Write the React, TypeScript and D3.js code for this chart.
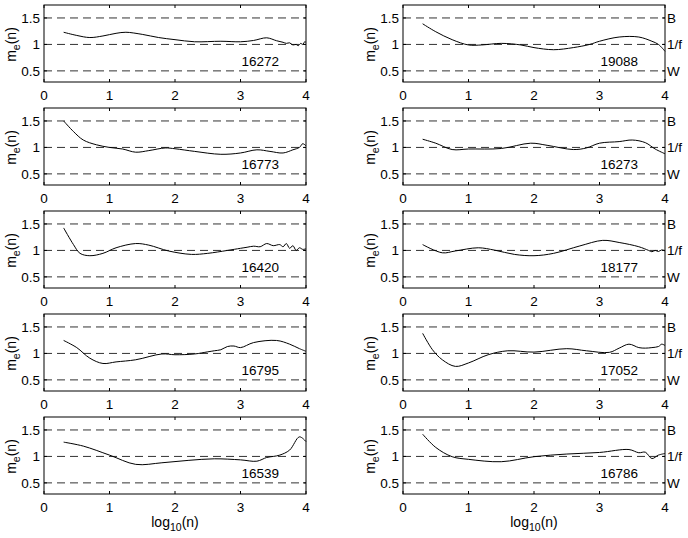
import * as d3 from 'd3';

// log10(n) positions and m_e(n) estimates for each run
const x16272 = [0.3, 0.5, 0.7, 0.9, 1.1, 1.25, 1.5, 1.75, 2.0, 2.3, 2.7, 3.0, 3.2, 3.4, 3.55, 3.65, 3.7, 3.75, 3.8, 3.85, 3.88, 3.92, 3.95, 3.98, 4.0];
const y16272 = [1.23, 1.17, 1.13, 1.16, 1.21, 1.23, 1.19, 1.13, 1.09, 1.05, 1.06, 1.05, 1.075, 1.125, 1.07, 1.04, 1.02, 1.03, 0.99, 1.0, 0.975, 1.02, 1.0, 1.05, 1.04];

const x19088 = [0.3, 0.5, 0.75, 1.0, 1.2, 1.5, 1.8, 2.0, 2.3, 2.6, 2.85, 3.0, 3.3, 3.6, 3.8, 3.9, 4.0];
const y19088 = [1.39, 1.24, 1.09, 0.99, 0.99, 1.02, 0.99, 0.94, 0.9, 0.94, 1.0, 1.06, 1.14, 1.14, 1.06, 1.0, 0.87];

const x16773 = [0.3, 0.45, 0.6, 0.8, 1.0, 1.2, 1.4, 1.6, 1.85, 2.0, 2.3, 2.7, 3.0, 3.25, 3.45, 3.65, 3.8, 3.9, 3.95, 4.0];
const y16773 = [1.5, 1.3, 1.14, 1.05, 1.0, 0.97, 0.91, 0.94, 0.99, 0.975, 0.925, 0.87, 0.895, 0.955, 0.925, 0.895, 0.955, 1.0, 1.07, 1.03];

const x16273 = [0.3, 0.5, 0.75, 1.0, 1.5, 1.95, 2.2, 2.6, 2.8, 3.0, 3.3, 3.5, 3.7, 3.85, 4.0];
const y16273 = [1.155, 1.08, 0.96, 0.97, 0.98, 1.08, 1.04, 0.96, 0.99, 1.08, 1.11, 1.14, 1.09, 0.97, 0.88];

const x16420 = [0.3, 0.45, 0.55, 0.7, 0.9, 1.1, 1.4, 1.6, 1.9, 2.25, 2.5, 2.8, 3.0, 3.1, 3.2, 3.3, 3.4, 3.5, 3.6, 3.65, 3.7, 3.75, 3.8, 3.85, 3.9, 3.95, 4.0];
const y16420 = [1.425, 1.11, 0.945, 0.9, 0.945, 1.05, 1.13, 1.1, 0.99, 0.925, 0.945, 1.0, 1.04, 1.06, 1.08, 1.07, 1.13, 1.09, 1.11, 1.07, 1.13, 1.04, 1.09, 1.0, 1.05, 1.02, 1.03];

const x18177 = [0.3, 0.6, 0.8, 1.15, 1.4, 1.7, 2.0, 2.3, 2.7, 3.05, 3.3, 3.6, 3.75, 3.8, 3.85, 3.9, 3.95, 4.0];
const y18177 = [1.11, 0.955, 0.99, 1.05, 1.005, 0.925, 0.9, 0.945, 1.085, 1.19, 1.15, 1.07, 1.0, 0.975, 1.0, 0.98, 1.01, 0.99];

const x16795 = [0.3, 0.5, 0.7, 0.9, 1.1, 1.4, 1.8, 2.0, 2.3, 2.5, 2.6, 2.7, 2.8, 2.9, 3.0, 3.2, 3.55, 3.75, 3.9, 4.0];
const y16795 = [1.245, 1.11, 0.91, 0.81, 0.84, 0.88, 0.99, 0.975, 0.99, 1.03, 1.05, 1.07, 1.13, 1.14, 1.11, 1.205, 1.245, 1.175, 1.09, 1.04];

const x17052 = [0.3, 0.45, 0.6, 0.8, 1.0, 1.3, 1.6, 2.0, 2.5, 2.8, 3.15, 3.3, 3.45, 3.6, 3.7, 3.8, 3.9, 3.95, 4.0];
const y17052 = [1.38, 1.07, 0.88, 0.755, 0.82, 0.975, 1.05, 1.025, 1.09, 1.05, 1.02, 1.1, 1.175, 1.11, 1.1, 1.11, 1.13, 1.175, 1.15];

const x16539 = [0.3, 0.6, 1.0, 1.4, 1.8, 2.2, 2.6, 3.0, 3.25, 3.4, 3.5, 3.6, 3.75, 3.9, 4.0];
const y16539 = [1.27, 1.195, 1.025, 0.85, 0.88, 0.925, 0.955, 0.935, 0.91, 0.98, 1.0, 1.025, 1.12, 1.37, 1.28];

const x16786 = [0.3, 0.5, 0.75, 1.0, 1.5, 2.0, 2.5, 3.0, 3.45, 3.6, 3.7, 3.8, 3.9, 4.0];
const y16786 = [1.42, 1.17, 0.995, 0.945, 0.9, 0.995, 1.045, 1.075, 1.13, 1.07, 1.08, 0.96, 1.025, 1.055];

// panel order: row by row, left then right
const panelNames = ['16272', '19088', '16773', '16273', '16420', '18177', '16795', '17052', '16539', '16786'];
const panelX = [x16272, x19088, x16773, x16273, x16420, x18177, x16795, x17052, x16539, x16786];
const panelY = [y16272, y19088, y16773, y16273, y16420, y18177, y16795, y17052, y16539, y16786];

const xTicks = [0, 1, 2, 3, 4];
const yTicks = [0.5, 1, 1.5];
const yTickLabels = ['0.5', '1', '1.5'];
const refLabels = ['W', '1/f', 'B'];

const W = 688;
const H = 538;
const panelW = 262;
const panelH = 77;
const colLeft = [44, 403];
const rowTop = [5, 108, 211, 314, 417];
const font = 'Liberation Sans, Arial, Helvetica, sans-serif';

const xScale = d3.scaleLinear().domain([0, 4]).range([0, panelW]);
const yScale = d3.scaleLinear().domain([0.29, 1.745]).range([panelH, 0]);

const line = d3.line<[number, number]>()
  .x(d => xScale(d[0]))
  .y(d => yScale(d[1]))
  .curve(d3.curveCatmullRom.alpha(0.5));

function Panel({ idx }: { idx: number }) {
  const col = idx % 2;
  const row = Math.floor(idx / 2);
  const left = colLeft[col];
  const top = rowTop[row];
  const pts: [number, number][] = panelX[idx].map((x, i) => [x, panelY[idx][i]]);
  const isBottom = row === 4;

  return (
    <g transform={`translate(${left},${top})`}>
      {yTicks.map(v => (
        <line key={'d' + v} x1={0} x2={panelW} y1={yScale(v)} y2={yScale(v)}
          stroke="#333" strokeWidth={1} strokeDasharray="8,5" />
      ))}
      <path d={line(pts) ?? ''} fill="none" stroke="#000" strokeWidth={1} />
      <rect x={0} y={0} width={panelW} height={panelH} fill="none" stroke="#000" strokeWidth={1} />
      {xTicks.map(v => (
        <g key={'xt' + v}>
          <line x1={xScale(v)} x2={xScale(v)} y1={panelH} y2={panelH - 3} stroke="#000" />
          <line x1={xScale(v)} x2={xScale(v)} y1={0} y2={3} stroke="#000" />
          <text x={xScale(v)} y={panelH + 18} textAnchor="middle" fontSize={13.5} fontFamily={font}>{v}</text>
        </g>
      ))}
      {yTicks.map((v, i) => (
        <g key={'yt' + v}>
          <line x1={0} x2={3} y1={yScale(v)} y2={yScale(v)} stroke="#000" />
          <line x1={panelW} x2={panelW - 3} y1={yScale(v)} y2={yScale(v)} stroke="#000" />
          <text x={-4} y={yScale(v)} dy="0.36em" textAnchor="end" fontSize={13.5} fontFamily={font}>{yTickLabels[i]}</text>
          {col === 1 && (
            <text x={panelW + 2} y={yScale(v)} dy="0.36em" textAnchor="start" fontSize={13.5} fontFamily={font}>{refLabels[i]}</text>
          )}
        </g>
      ))}
      <text transform={`translate(-28,${panelH / 2 + 1}) rotate(-90)`} textAnchor="middle" fontSize={14} fontFamily={font}>
        m<tspan dy="4" fontSize={10.5}>e</tspan><tspan dy="-4">(n)</tspan>
      </text>
      <text x={xScale(3.3)} y={yScale(0.6)} textAnchor="middle" fontSize={13.5} fontFamily={font}>{panelNames[idx]}</text>
      {isBottom && (
        <text x={panelW / 2} y={panelH + 33} textAnchor="middle" fontSize={14} fontFamily={font}>
          log<tspan dy="4" fontSize={10.5}>10</tspan><tspan dy="-4">(n)</tspan>
        </text>
      )}
    </g>
  );
}

export default function App() {
  return (
    <svg width={W} height={H} style={{ position: 'absolute', left: 0, top: 0, background: '#fff' }}>
      {panelNames.map((_, i) => <Panel key={i} idx={i} />)}
    </svg>
  );
}
